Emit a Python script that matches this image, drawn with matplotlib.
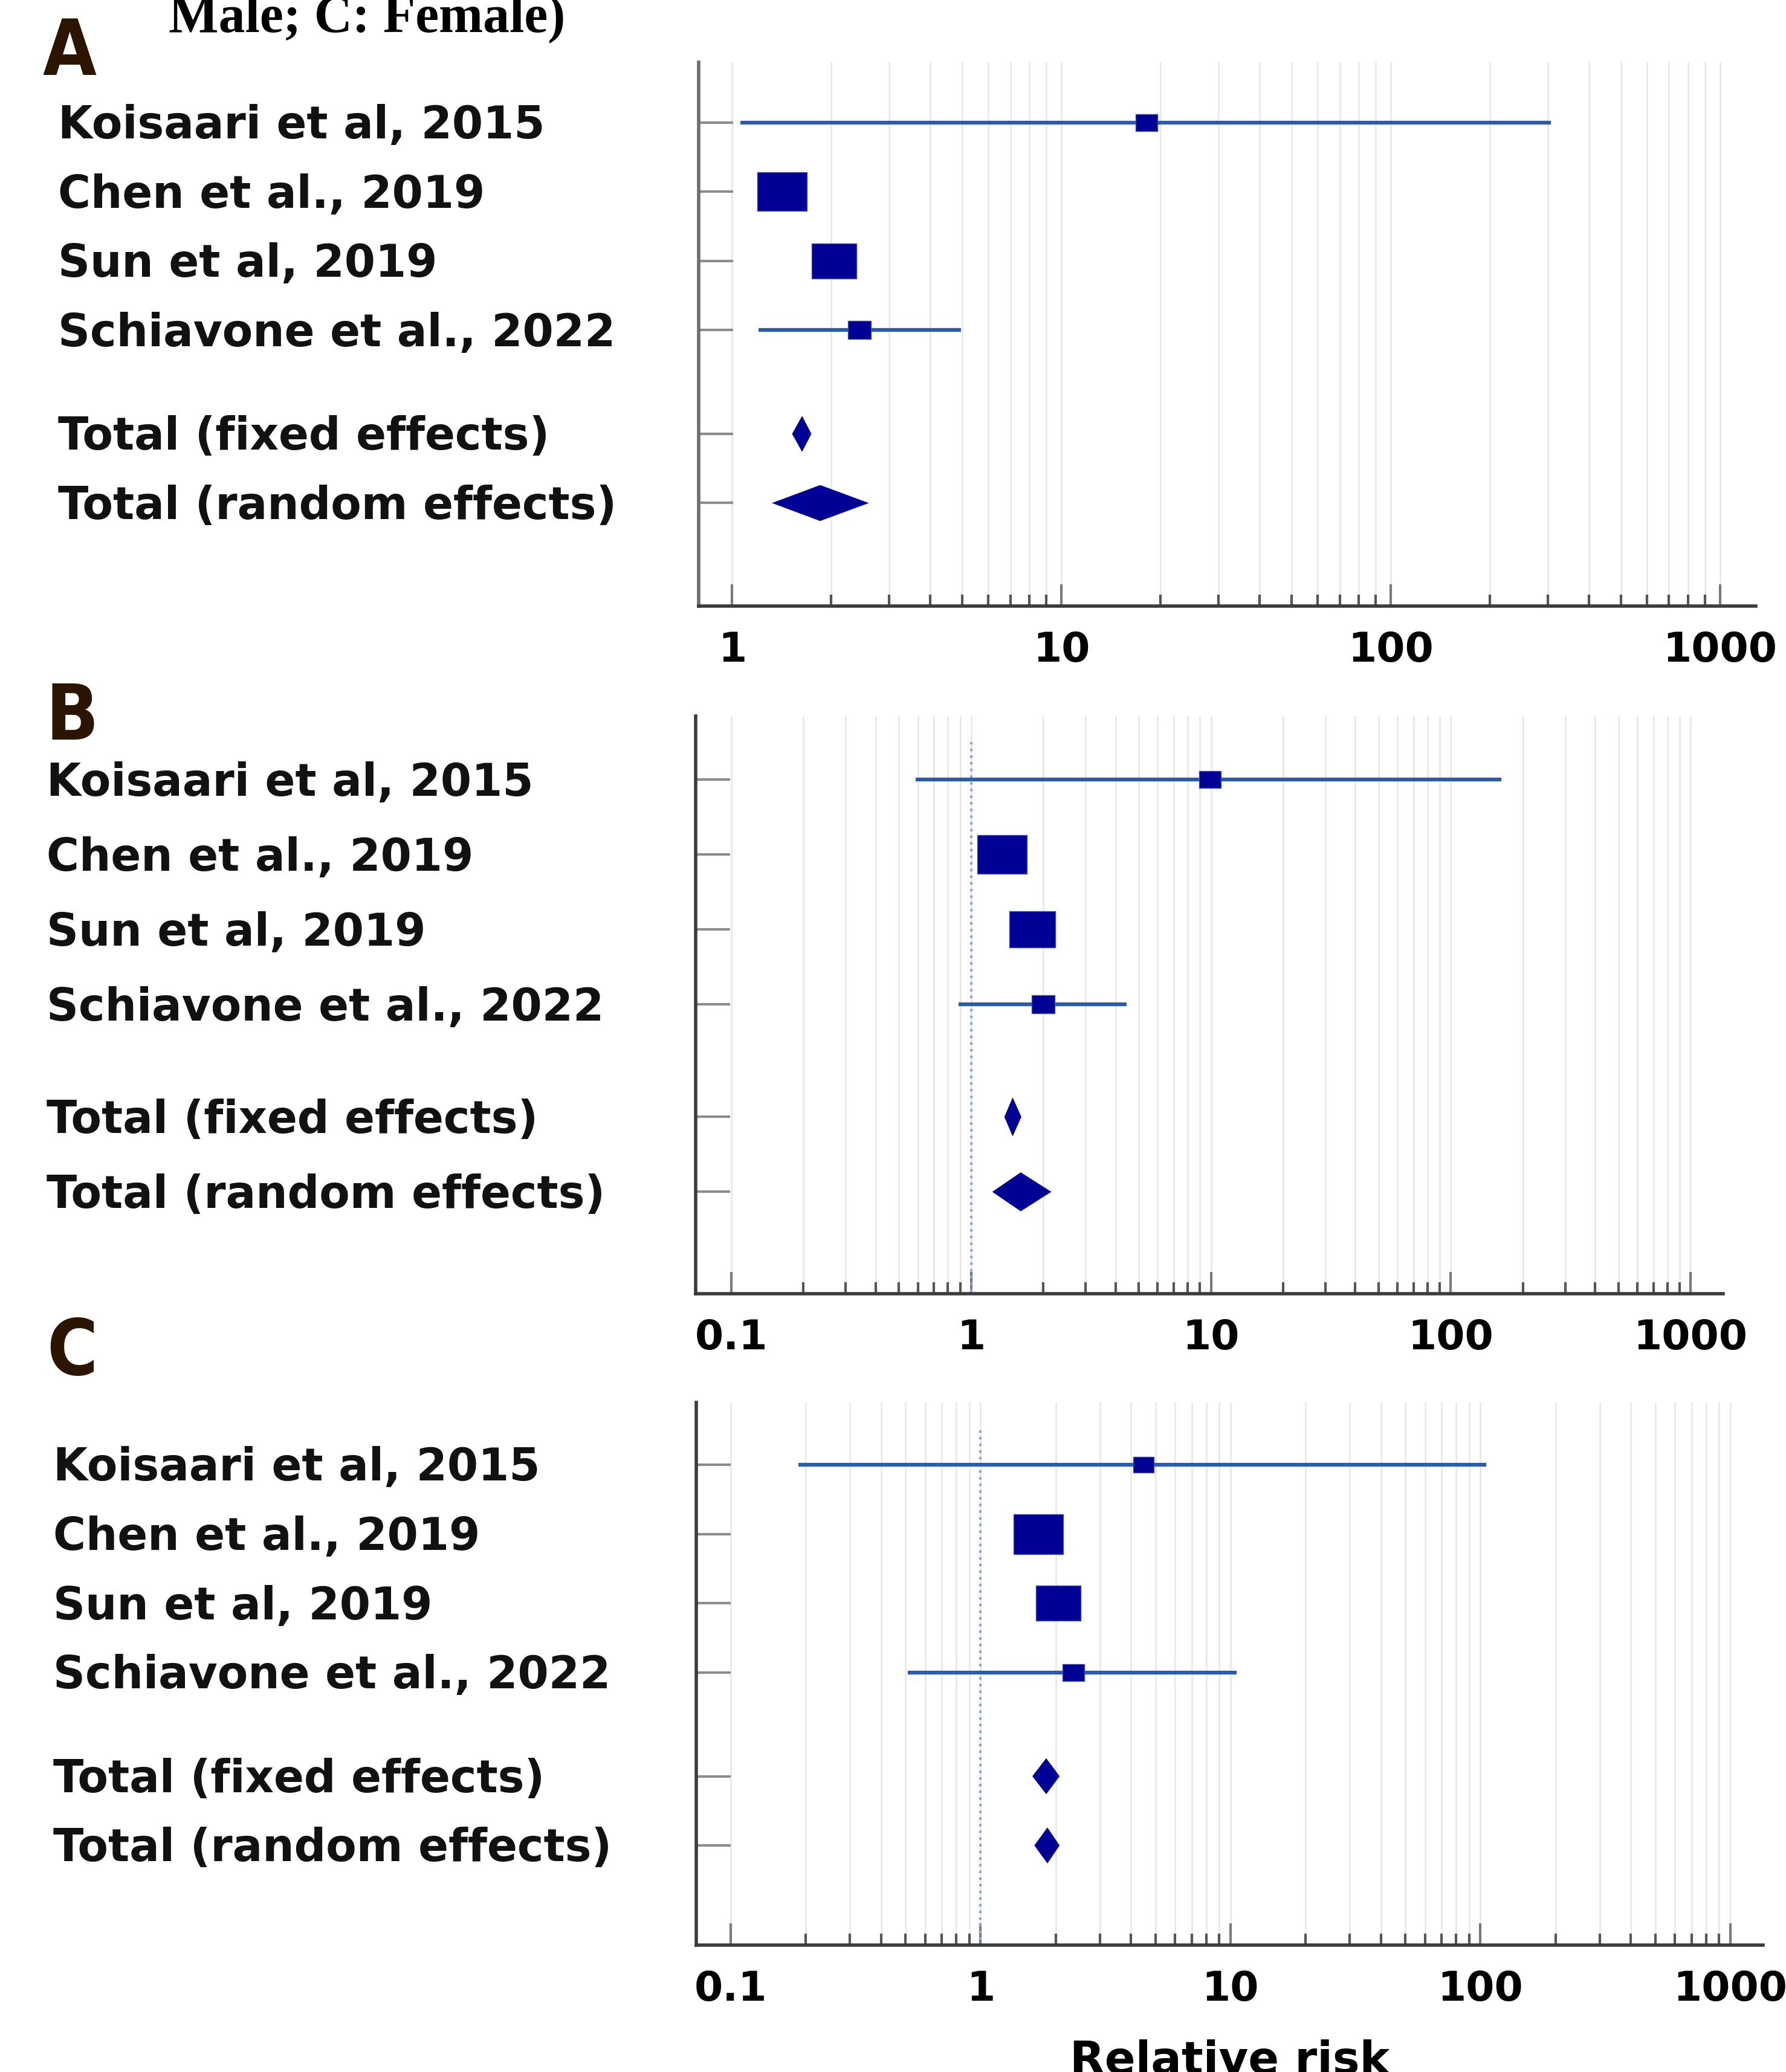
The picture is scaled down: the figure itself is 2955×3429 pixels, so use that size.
import numpy as np
import matplotlib
matplotlib.use('Agg')
from matplotlib import pyplot as plt
from matplotlib.path import Path
from matplotlib import transforms
from matplotlib.ticker import FixedLocator, NullFormatter

W, H = 2955, 3429

studies = ['Koisaari et al, 2015', 'Chen et al., 2019', 'Sun et al, 2019', 'Schiavone et al., 2022']
pooled = ['Total (fixed effects)', 'Total (random effects)']

# A: overall
rr_a = [18.1, 1.42, 2.04, 2.43]
lo_a = [1.06, 1.28, 1.84, 1.20]
hi_a = [307, 1.58, 2.26, 4.95]
w_a = [9, 45, 38, 10]
pool_rr_a = [1.63, 1.85]
pool_lo_a = [1.52, 1.32]
pool_hi_a = [1.74, 2.60]

# B: male
rr_b = [9.93, 1.35, 1.80, 2.00]
lo_b = [0.586, 1.20, 1.60, 0.885]
hi_b = [163, 1.50, 2.00, 4.44]
w_b = [9, 46, 40, 10]
pool_rr_b = [1.49, 1.61]
pool_lo_b = [1.376, 1.225]
pool_hi_b = [1.62, 2.16]

# C: female
rr_c = [4.49, 1.70, 2.04, 2.35]
lo_c = [0.187, 1.50, 1.80, 0.51]
hi_c = [105.5, 1.90, 2.30, 10.6]
w_c = [8, 47, 37, 9]
pool_rr_c = [1.83, 1.85]
pool_lo_c = [1.61, 1.64]
pool_hi_c = [2.07, 2.07]

ticks_a = [1, 10, 100, 1000]
ticks_bc = [0.1, 1, 10, 100, 1000]

plt.rcParams['font.family'] = ['DejaVu Sans']
plt.rcParams['font.weight'] = 'bold'

fig = plt.figure(figsize=(W / 100, H / 100), dpi=100)

rows = [0, 1, 2, 3, 4.5, 5.5]
rect = Path([(-1.27, -1), (1.27, -1), (1.27, 1), (-1.27, 1), (-1.27, -1)],
            [Path.MOVETO, Path.LINETO, Path.LINETO, Path.LINETO, Path.CLOSEPOLY])
navy = '#000094'
ci_col = '#2a5caa'


def draw_panel(box, rr, lo, hi, w, prr, plo, phi, xlim, ylim, ticks, ref, label_x, letter, letter_xy):
    x0, top, x1, bottom = box
    ax = fig.add_axes([x0 / W, 1 - bottom / H, (x1 - x0) / W, (bottom - top) / H])
    ax.set_xscale('log')
    ax.set_xlim(*xlim)
    ax.set_ylim(*ylim)

    ax.grid(True, which='both', axis='x', color='#e6e6e6', lw=1.8)
    ax.set_axisbelow(True)
    if ref:
        ax.vlines(1, -0.5, ylim[0], colors='#86a6d8', linestyles=':', lw=3, zorder=1)

    for i in range(4):
        ax.plot([lo[i], hi[i]], [rows[i], rows[i]], color=ci_col, lw=4.5, solid_capstyle='butt', zorder=2)
        ms = 12.1 * np.sqrt(w[i]) * 0.72
        ax.plot(rr[i], rows[i], marker=rect, ms=ms, color=navy, mec='#3a48b8', mew=1, zorder=3)
    for j in range(2):
        y = rows[4 + j]
        ax.fill([plo[j], prr[j], phi[j], prr[j]], [y, y - 0.26, y, y + 0.26], color=navy, lw=0, zorder=3)

    ax.set_xticks(ticks)
    ax.set_xticklabels([f'{t:g}' for t in ticks])
    minors = [m * t for t in ticks[:-1] for m in range(2, 10)]
    ax.xaxis.set_minor_locator(FixedLocator(minors))
    ax.xaxis.set_minor_formatter(NullFormatter())
    ax.tick_params(axis='x', which='major', direction='in', length=26, width=3, color='#7a7a7a',
                   pad=29, labelsize=49)
    ax.tick_params(axis='x', which='minor', direction='in', length=14, width=3, color='#555555')
    ax.set_yticks(rows)
    ax.set_yticklabels([])
    ax.tick_params(axis='y', which='major', direction='in', length=41, width=3, color='#8c8c8c')
    ax.tick_params(axis='y', which='minor', left=False)

    for s in ['top', 'right']:
        ax.spines[s].set_visible(False)
    for s in ['left', 'bottom']:
        ax.spines[s].set_linewidth(4)
        ax.spines[s].set_color('#3c3c3c')

    trans = transforms.blended_transform_factory(fig.transFigure, ax.transData)
    trans = transforms.offset_copy(trans, fig=fig, y=-19, units='points')
    for i, name in enumerate(studies + pooled):
        ax.text(label_x / W, rows[i], name, transform=trans, ha='left', va='baseline',
                fontsize=53, fontweight='bold', color='#111111')

    fig.text(letter_xy[0] / W, 1 - letter_xy[1] / H, letter, ha='left', va='baseline',
             fontsize=92, fontweight='bold', fontstretch='condensed', color='#2b1400')
    return ax


ax_a = draw_panel((1156, 103, 2905, 1003), rr_a, lo_a, hi_a, w_a, pool_rr_a, pool_lo_a, pool_hi_a,
                  (0.791, 1285), (6.99, -0.874), ticks_a, False, 96, 'A', (70, 124))
ax_a.spines['left'].set_color('#6e6e6e')
ax_b = draw_panel((1151, 1185, 2851, 2141), rr_b, lo_b, hi_b, w_b, pool_rr_b, pool_lo_b, pool_hi_b,
                  (0.071, 1368), (6.86, -0.85), ticks_bc, True, 77, 'B', (75, 1224))
ax_c = draw_panel((1152, 2321, 2917, 3219), rr_c, lo_c, hi_c, w_c, pool_rr_c, pool_lo_c, pool_hi_c,
                  (0.0728, 1351), (6.94, -0.9), ticks_bc, True, 88, 'C', (77, 2275))
ax_c.set_xlabel('Relative risk', fontsize=54, fontweight='bold', labelpad=36)

fig.text(279 / W, 1 - 52 / H, 'Male; C: Female)', ha='left', va='baseline',
         fontsize=63, fontweight='bold', family='Liberation Serif', color='black')

fig.savefig('out.png', dpi=100)
